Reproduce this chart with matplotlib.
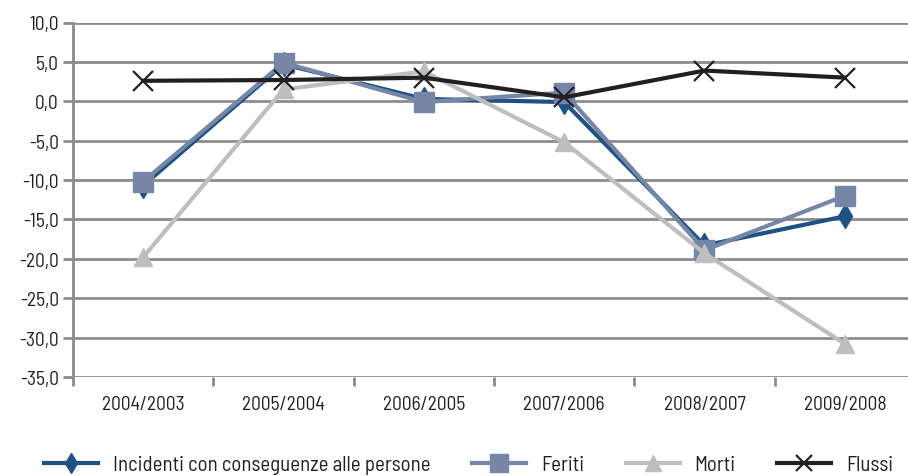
import matplotlib.pyplot as plt

plt.rcParams['font.family'] = ['Barlow Semi Condensed', 'DejaVu Sans']

periodi = ["2004/2003", "2005/2004", "2006/2005", "2007/2006", "2008/2007", "2009/2008"]
incidenti = [-10.7, 4.7, 0.3, -0.1, -18.3, -14.6]
feriti = [-10.2, 4.9, -0.1, 1.1, -18.9, -12.0]
morti = [-19.8, 1.5, 3.8, -5.2, -19.3, -30.8]
flussi = [2.6, 2.7, 3.0, 0.5, 3.9, 3.0]

grid_col = "#8c8c8e"

fig = plt.figure(figsize=(9.08, 4.77), dpi=100)
ax = fig.add_axes([73 / 908, 1 - 378 / 477, 842 / 908, 354.5 / 477])

x = list(range(len(periodi)))
ax.plot(x, incidenti, color="#1f5282", lw=3, marker="d", ms=12, label="Incidenti con conseguenze alle persone", zorder=3)
ax.plot(x, feriti, color="#7586a7", lw=3, marker="s", ms=14.5, label="Feriti", zorder=4)
ax.plot(x, morti, color="#bdbec0", lw=3, marker="^", ms=13, label="Morti", zorder=5)
ax.plot(x, flussi, color="#231f20", lw=3, marker="x", ms=14, mew=1.6, label="Flussi", zorder=6)

ax.set_xlim(-0.5, len(periodi) - 0.5)
ax.set_ylim(-35, 10)
ax.set_yticks(range(-35, 11, 5))
ax.set_yticklabels([f"{v:.1f}".replace(".", ",") for v in range(-35, 11, 5)], fontsize=14)
ax.set_xticks(x)
ax.set_xticklabels(periodi, fontsize=14)
ax.set_xticks([i - 0.5 for i in range(len(periodi) + 1)], minor=True)

ax.grid(axis="y", color=grid_col, lw=2)
ax.set_axisbelow(True)
for s in ["top", "right", "bottom"]:
    ax.spines[s].set_visible(False)
ax.spines["left"].set_color(grid_col)
ax.spines["left"].set_linewidth(2)

ax.tick_params(axis="y", length=7, width=2, color=grid_col, pad=3, labelcolor="#231f20")
ax.tick_params(axis="x", which="major", length=0, pad=13, labelcolor="#231f20")
ax.tick_params(axis="x", which="minor", length=6.5, width=2, color=grid_col)

leg = fig.legend(loc="center", bbox_to_anchor=(0.516, 1 - 466 / 477), ncol=4, frameon=False,
                 fontsize=15, handlelength=2.6, columnspacing=2.0, handletextpad=0.7,
                 markerscale=0.85, labelcolor="#231f20")

fig.savefig("out.png", dpi=100)
